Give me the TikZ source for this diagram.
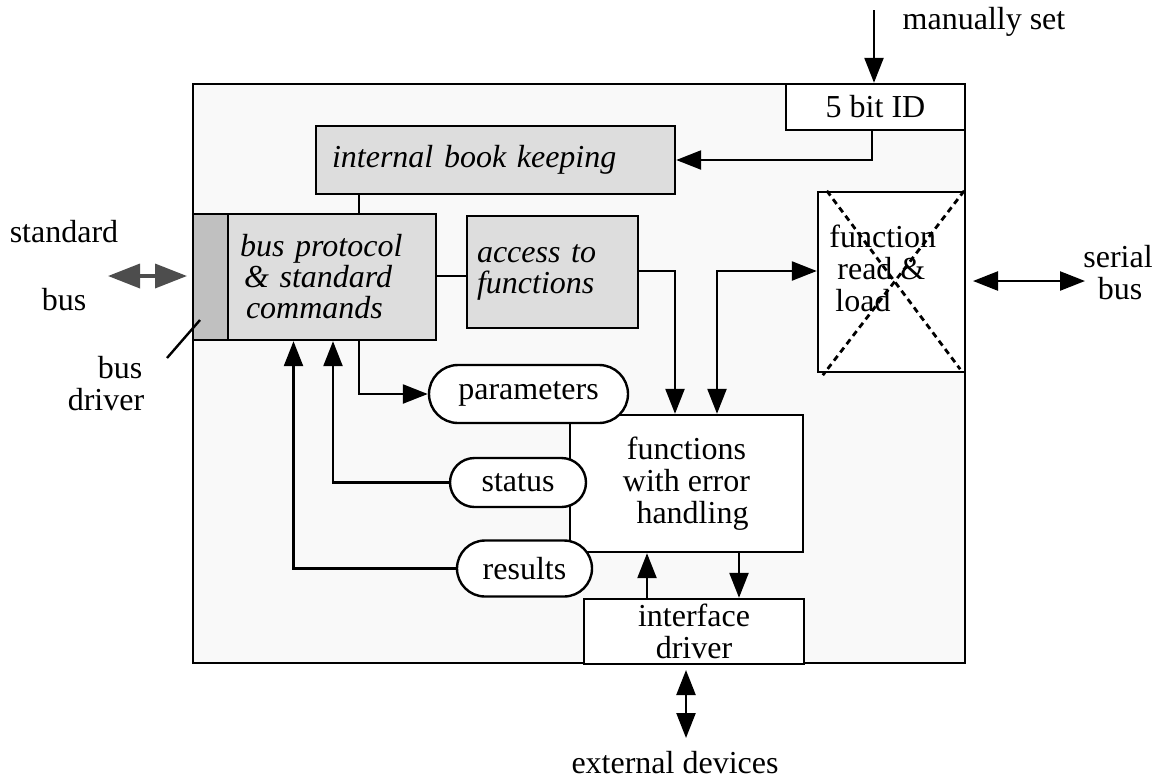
\documentclass[tikz,border=0pt]{standalone}
\usepackage{fontspec}
\setmainfont{Liberation Serif}
\usetikzlibrary{arrows.meta,calc,shapes.misc}
\definecolor{bgfill}{HTML}{F9F9F9}
\definecolor{gfill}{HTML}{DDDDDD}
\definecolor{sfill}{HTML}{C0C0C0}
\definecolor{busgray}{HTML}{4D4D4D}
\tikzset{
  box/.style={draw, line width=1.2pt, rectangle, inner sep=0pt, align=center, fill=white},
  gbox/.style={box, fill=gfill, font=\fontsize{16}{15.5}\selectfont\itshape, align=left},
  pill/.style={draw, line width=1.2pt, rounded rectangle, inner sep=0pt, fill=white},
  lbl/.style={inner sep=0pt, align=center},
  arr/.style={line width=1.2pt, -{Triangle[length=12.5pt,width=9.5pt]}},
  darr/.style={line width=1.2pt, {Triangle[length=12.5pt,width=9.5pt]}-{Triangle[length=12.5pt,width=9.5pt]}},
  sbarr/.style={line width=1.8pt, draw=busgray, {Triangle[length=16pt,width=12pt]}-{Triangle[length=16pt,width=12pt]}},
  xdash/.style={line width=1.4pt, dash pattern=on 3pt off 2.2pt},
}
\begin{document}
\begin{tikzpicture}[x=0.5pt,y=-0.5pt, font=\fontsize{16}{16}\selectfont]
\useasboundingbox (0,0) rectangle (1162,778);
% outer box
\node[box, fill=bgfill, minimum width=386pt, minimum height=289.5pt] (main) at (579,373.5) {};
% boxes
\node[box, minimum width=89.5pt, minimum height=23pt] (id) at (875.5,107) {5 bit ID};
\node[gbox, minimum width=179.5pt, minimum height=34pt, text width=163.5pt, inner xsep=8pt] (book) at (495.5,160) {internal book keeping};
\node[box, fill=sfill, minimum width=17.5pt, minimum height=63pt] (strip) at (210.5,277) {};
\node[gbox, minimum width=104pt, minimum height=63pt, text width=92pt, inner xsep=6pt] (proto) at (332,277) {bus protocol\\\hspace*{2pt}\& standard\\\hspace*{3pt}commands};
\node[gbox, minimum width=85.5pt, minimum height=56pt, text width=75.5pt, inner xsep=5pt] (access) at (552.5,272) {access to\\functions};
\node[box, minimum width=73.5pt, minimum height=90pt] (frl) at (891.5,282) {};
\draw[xdash] ($(frl.north west)+(10,0)$) -- ($(frl.south east)+(-6,-4)$);
\draw[xdash] ($(frl.north east)+(-2,0)$) -- ($(frl.south west)+(6,2)$);
\node[lbl, align=left, anchor=west] (frltxt) at (829,268) {function\\\hspace*{4pt}read \&\\\hspace*{3pt}load};
\node[box, minimum width=116.5pt, minimum height=68.5pt] (func) at (686.5,483.5) {functions\\with error\\\hspace*{6pt}handling};
\node[pill, minimum width=99.5pt, minimum height=29pt] (params) at (528.5,394) {parameters};
\node[pill, minimum width=68pt, minimum height=24.5pt] (status) at (518,482.5) {status};
\node[pill, minimum width=67.5pt, minimum height=28pt] (results) at (524.5,568.5) {results};
\node[box, minimum width=110pt, minimum height=32.5pt] (iface) at (694,631.5) {interface\\driver};
% outside labels
\node[lbl] (mstxt) at (984,22) {manually set};
\node[lbl] (std) at (64,232) {standard};
\node[lbl] (stdbus) at (64,300) {bus};
\node[lbl] (drv) at (106,384) {\hspace*{14pt}bus\\driver};
\node[lbl] (ser) at (1118,273) {serial\\\hspace*{2pt}bus};
\node[lbl] (ext) at (675,763) {external devices};
% helper coordinates
\coordinate (ms) at (874,10);
\coordinate (xa) at (293.5,0);
\coordinate (xb) at (333,0);
\coordinate (xc) at (359,0);
\coordinate (xd) at (675,0);
\coordinate (xe) at (717,0);
\coordinate (xf) at (647,0);
\coordinate (xg) at (739,0);
\coordinate (sb1) at (973,281);
\coordinate (sb2) at (1085,281);
\coordinate (st1) at (108,276);
\coordinate (st2) at (187,276);
\coordinate (bd1) at (200,320);
\coordinate (bd2) at (167,358);
\coordinate (ex1) at (686,670);
\coordinate (ex2) at (686,738);
% connectors
\draw[arr] (ms) -- (ms |- id.north);
\draw[arr] (id.south -| 872,0) |- (book.east);
\draw[line width=1.2pt] (book.south -| xc) -- (proto.north -| xc);
\draw[line width=1.2pt] (proto.east |- 0,276) -- (access.west |- 0,276);
\draw[arr] (access.east |- 0,271) -| (xd |- func.north);
\draw[darr] (xe |- func.north) |- (frl.west |- 0,271);
\draw[darr] (sb1) -- (sb2);
\draw[sbarr] (st1) -- (st2);
\draw[line width=1.2pt] (bd1) -- (bd2);
\draw[arr] (xc |- proto.south) |- (params.west);
\draw[arr] (status.west) -| (xb |- proto.south);
\draw[arr] (results.west) -| (xa |- proto.south);
\draw[arr] (xf |- iface.north) -- (xf |- func.south);
\draw[arr] (xg |- func.south) -- (xg |- iface.north);
\draw[darr] (ex1) -- (ex2);
\end{tikzpicture}
\end{document}
